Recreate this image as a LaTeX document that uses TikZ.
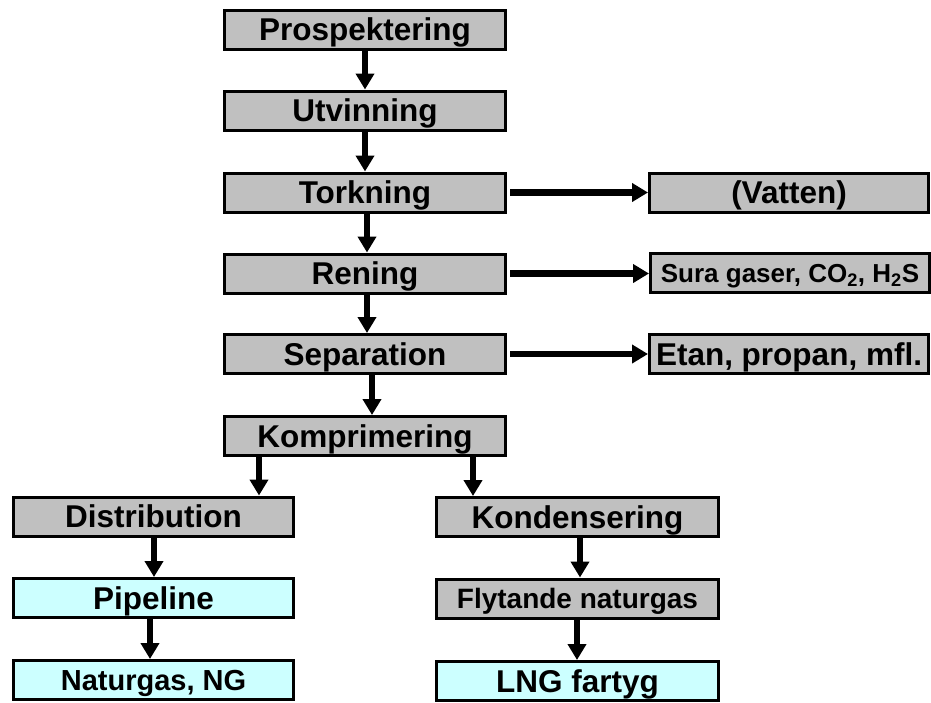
\documentclass[tikz,border=0pt]{standalone}
\usepackage{fontspec}
\setmainfont{Liberation Sans}
\usetikzlibrary{arrows.meta}
\definecolor{boxgray}{RGB}{192,192,192}
\definecolor{boxcyan}{RGB}{204,255,255}
\begin{document}
\begin{tikzpicture}[x=1pt,y=-1pt,
  box/.style={draw=black, line width=3pt, fill=boxgray, minimum width=281pt,
    minimum height=39pt, inner sep=0pt, text depth=0pt},
  fs/.style={font=\fontsize{#1}{#1}\selectfont\bfseries, text height=0.716*#1 pt},
  main/.style={box, fs=31.5},
  product/.style={box, fill=boxcyan, fs=31.5},
  flow/.style={line width=6.5pt, -{Triangle[length=16pt,width=18pt]}},
]
\useasboundingbox (0,0) rectangle (931,702);

% main process chain
\node[main] (pro) at (365,29.5) {Prospektering};
\node[main] (utv) at (365,110.5) {Utvinning};
\node[main] (tor) at (365,192.5) {Torkning};
\node[main] (ren) at (365,273.5) {Rening};
\node[main] (sep) at (365,354) {Separation};
\node[main] (kom) at (365,436) {Komprimering};

% by-products
\node[main, minimum width=279pt] (vat) at (789,192.5) {(Vatten)};
\node[box, fs=26, minimum width=279pt] (sur) at (790,273) {Sura gaser, CO\textsubscript{2}, H\textsubscript{2}S};
\node[main, minimum width=279pt] (eta) at (789,354) {Etan, propan, mfl.};

% pipeline branch
\node[main, minimum width=280pt] (dis) at (153.5,516.5) {Distribution};
\node[product, minimum width=280pt] (pip) at (153.5,598) {Pipeline};
\node[product, fs=29, minimum width=280pt] (ng) at (153.5,680) {Naturgas, NG};

% LNG branch
\node[main, minimum width=282pt] (kon) at (577.5,517) {Kondensering};
\node[main, fs=28, minimum width=282pt] (fly) at (577.5,598.5) {Flytande naturgas};
\node[product, minimum width=282pt] (lng) at (577.5,681) {LNG fartyg};

% vertical flow
\draw[flow] (pro.south) -- (utv.north);
\draw[flow] (utv.south) -- (tor.north);
\draw[flow] ([xshift=2pt]tor.south) -- ([xshift=2pt]tor.south |- ren.north);
\draw[flow] ([xshift=2pt]ren.south) -- ([xshift=2pt]ren.south |- sep.north);
\draw[flow] ([xshift=7pt]sep.south) -- ([xshift=7pt]sep.south |- kom.north);
\draw[flow] ([xshift=-106pt]kom.south) -- ([xshift=-106pt]kom.south |- dis.north);
\draw[flow] ([xshift=108pt,yshift=3pt]kom.south) -- ([xshift=108pt]kom.south |- kon.north);
\draw[flow] ([xshift=0.5pt]dis.south) -- ([xshift=0.5pt]dis.south |- pip.north);
\draw[flow] ([xshift=-3.5pt]pip.south) -- ([xshift=-3.5pt]pip.south |- ng.north);
\draw[flow] ([xshift=2.5pt]kon.south) -- ([xshift=2.5pt]kon.south |- fly.north);
\draw[flow] ([xshift=-0.5pt]fly.south) -- ([xshift=-0.5pt]fly.south |- lng.north);

% side streams
\draw[flow] ([xshift=3pt]tor.east) -- (vat.west);
\draw[flow] ([xshift=3pt]ren.east) -- (ren.east -| sur.west);
\draw[flow] ([xshift=3pt]sep.east) -- (eta.west);
\end{tikzpicture}
\end{document}
